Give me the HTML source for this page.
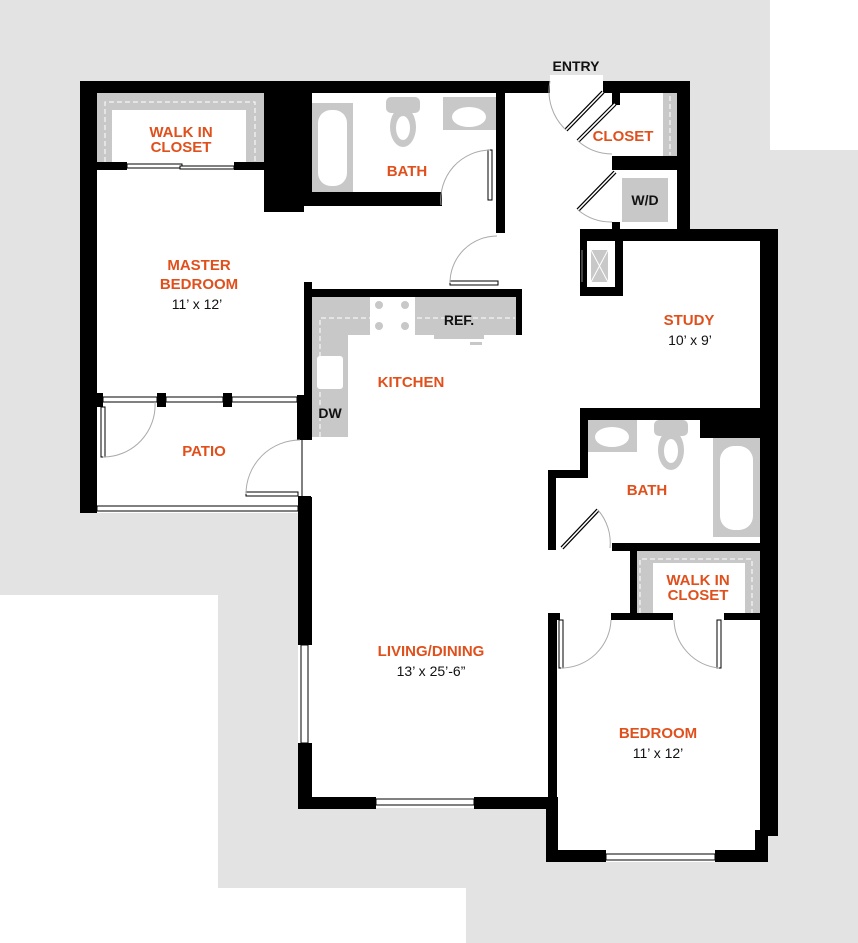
<!DOCTYPE html>
<html><head><meta charset="utf-8"><style>
html,body{margin:0;padding:0;background:#fff;}
svg{display:block;}
.o{font-family:"Liberation Sans",sans-serif;font-weight:bold;fill:#e0501c;font-size:15px;text-anchor:middle;}
.k{font-family:"Liberation Sans",sans-serif;fill:#111;font-size:14px;text-anchor:middle;}
</style></head><body>
<svg width="858" height="943" viewBox="0 0 858 943" xmlns="http://www.w3.org/2000/svg">
<polygon points="0,0 770,0 770,150 858,150 858,943 466,943 466,888 218,888 218,595 0,595" fill="#e3e3e3"/>
<polygon points="80,81 550,81 550,75 603,75 603,81 690,81 690,229 778,229 778,836 768,836 768,862 546,862 546,808 298,808 298,513 80,513" fill="#fff"/>

<g fill="#c8c8c8">
<rect x="97" y="93" width="167" height="69"/>
<rect x="312" y="103" width="41" height="89"/>
<rect x="443" y="97" width="53" height="33"/>
<rect x="312" y="297" width="204" height="38"/>
<rect x="312" y="297" width="36" height="140"/>
<rect x="434" y="297" width="50" height="42"/>
<rect x="663" y="93" width="14" height="64"/>
<rect x="622" y="178" width="46" height="44"/>
<rect x="591" y="250" width="17" height="32"/>
<rect x="588" y="420" width="49" height="32"/>
<rect x="713" y="438" width="47" height="99"/>
<rect x="630" y="550" width="130" height="63"/>
</g>
<g fill="#fff">
<rect x="112" y="110" width="134" height="52"/>
<rect x="370" y="297" width="45" height="39"/>
<rect x="653" y="563" width="92" height="50"/>
<rect x="318" y="110" width="29" height="76" rx="13"/>
<rect x="720" y="446" width="33" height="84" rx="14"/>
<rect x="317" y="356" width="26" height="33" rx="3"/>
<ellipse cx="469" cy="117" rx="17" ry="10"/>
<ellipse cx="612" cy="437" rx="17" ry="10"/>
</g>
<g fill="#c8c8c8">
<rect x="386" y="97" width="34" height="16" rx="5"/>
<ellipse cx="403" cy="127" rx="13" ry="20"/>
<rect x="654" y="420" width="34" height="16" rx="5"/>
<ellipse cx="671" cy="450" rx="13" ry="20"/>
</g>
<g fill="#fff"><ellipse cx="403" cy="128" rx="7" ry="12"/><ellipse cx="671" cy="451" rx="7" ry="12"/></g>
<g fill="#c8c8c8"><circle cx="379" cy="305" r="4"/><circle cx="405" cy="305" r="4"/><circle cx="379" cy="326" r="4"/><circle cx="405" cy="326" r="4"/></g>
<rect x="470" y="342" width="12" height="3" fill="#c8c8c8"/>
<path d="M591,250 L608,282 M608,250 L591,282" stroke="#fff" stroke-width="1"/>
<g stroke="#fff" stroke-width="1" stroke-dasharray="5,3" fill="none">
<path d="M105,162 V102 H255 V162"/>
<path d="M640,613 V559 H752 V613"/>
<path d="M320,437 V318 H515"/>
<path d="M670,96 V155"/>
</g>

<g fill="#000">
<rect x="80" y="81" width="470" height="12"/>
<rect x="603" y="81" width="87" height="12"/>
<rect x="80" y="81" width="17" height="432"/>
<rect x="97" y="162" width="30" height="8"/>
<rect x="234" y="162" width="30" height="8"/>
<rect x="264" y="81" width="40" height="131"/>
<rect x="304" y="81" width="8" height="124"/>
<rect x="304" y="192" width="138" height="14"/>
<rect x="496" y="93" width="9" height="140"/>
<rect x="304" y="282" width="8" height="158"/>
<rect x="297" y="395" width="15" height="45"/>
<rect x="304" y="289" width="218" height="8"/>
<rect x="516" y="289" width="6" height="46"/>
<rect x="97" y="393" width="6" height="14"/>
<rect x="157" y="393" width="9" height="14"/>
<rect x="223" y="393" width="9" height="14"/>
<rect x="298" y="496" width="13" height="17"/>
<rect x="298" y="497" width="14" height="148"/>
<rect x="298" y="743" width="14" height="66"/>
<rect x="298" y="797" width="78" height="12"/>
<rect x="474" y="797" width="74" height="12"/>
<rect x="546" y="797" width="12" height="65"/>
<rect x="548" y="613" width="9" height="249"/>
<rect x="546" y="850" width="60" height="12"/>
<rect x="715" y="850" width="53" height="12"/>
<rect x="755" y="830" width="13" height="32"/>
<rect x="760" y="229" width="18" height="607"/>
<rect x="677" y="81" width="13" height="148"/>
<rect x="612" y="93" width="8" height="12"/>
<rect x="612" y="156" width="65" height="14"/>
<rect x="612" y="222" width="8" height="8"/>
<rect x="580" y="229" width="198" height="12"/>
<rect x="580" y="229" width="7" height="67"/>
<rect x="615" y="229" width="8" height="67"/>
<rect x="580" y="287" width="43" height="9"/>
<rect x="580" y="408" width="180" height="12"/>
<rect x="700" y="408" width="60" height="30"/>
<rect x="580" y="408" width="8" height="70"/>
<rect x="548" y="470" width="40" height="8"/>
<rect x="548" y="470" width="8" height="80"/>
<rect x="612" y="543" width="148" height="8"/>
<rect x="630" y="543" width="7" height="70"/>
<rect x="548" y="613" width="12" height="7"/>
<rect x="611" y="613" width="62" height="7"/>
<rect x="724" y="613" width="36" height="7"/>
</g>

<g fill="#fff" stroke="#000" stroke-width="1">
<rect x="127" y="164" width="55" height="4"/><rect x="180" y="166" width="54" height="3"/>
<rect x="103" y="397" width="54" height="5"/><rect x="166" y="397" width="57" height="5"/><rect x="232" y="397" width="65" height="5"/>
<rect x="97" y="506" width="201" height="5"/>
<rect x="301" y="645" width="7" height="98"/>
<rect x="376" y="799" width="98" height="6"/>
<rect x="606" y="854" width="109" height="6"/>
</g>
<line x1="302" y1="440" x2="302" y2="497" stroke="#000" stroke-width="1"/>
<line x1="582" y1="250" x2="582" y2="282" stroke="#888" stroke-width="1"/>

<g fill="#fff" stroke="#000" stroke-width="1">
<rect x="488" y="150" width="4" height="50"/>
<rect x="450" y="281" width="48" height="4"/>
<rect x="101" y="407" width="4" height="50"/>
<rect x="246" y="492" width="52" height="4"/>
<rect x="559" y="620" width="4" height="48"/>
<rect x="717" y="620" width="4" height="48"/>
</g>
<g stroke="#000" stroke-width="4">
<line x1="603" y1="92" x2="566" y2="130"/>
<line x1="615" y1="104" x2="578" y2="141"/>
<line x1="615" y1="172" x2="578" y2="210"/>
<line x1="598" y1="510" x2="562" y2="548"/>
</g>
<g stroke="#fff" stroke-width="1.6">
<line x1="603" y1="92" x2="566" y2="130"/>
<line x1="615" y1="104" x2="578" y2="141"/>
<line x1="615" y1="172" x2="578" y2="210"/>
<line x1="598" y1="510" x2="562" y2="548"/>
</g>
<g fill="none" stroke="#aaa" stroke-width="1">
<path d="M441,205 A50,50 0 0 1 490,150"/>
<path d="M450,283 A47,47 0 0 1 497,236"/>
<path d="M103,457 A52,52 0 0 0 155,402"/>
<path d="M246,494 A54,54 0 0 1 300,440"/>
<path d="M550,81 A53,53 0 0 0 566,130"/>
<path d="M578,141 A52,52 0 0 0 612,154"/>
<path d="M578,210 A52,52 0 0 0 612,222"/>
<path d="M598,510 A50,50 0 0 1 610,548"/>
<path d="M561,668 A50,50 0 0 0 611,620"/>
<path d="M719,668 A50,50 0 0 1 674,620"/>
</g>

<text class="k" x="576" y="71" font-weight="bold" font-size="14">ENTRY</text>
<text class="o" x="181" y="137" font-size="13">WALK IN</text>
<text class="o" x="181" y="152" font-size="13">CLOSET</text>
<text class="o" x="407" y="176">BATH</text>
<text class="o" x="623" y="141">CLOSET</text>
<text class="k" x="645" y="205" font-weight="bold">W/D</text>
<text class="o" x="199" y="270">MASTER</text>
<text class="o" x="199" y="289">BEDROOM</text>
<text class="k" x="197" y="309">11’ x 12’</text>
<text class="k" x="459" y="325" font-weight="bold">REF.</text>
<text class="o" x="689" y="325">STUDY</text>
<text class="k" x="690" y="345">10’ x 9’</text>
<text class="o" x="411" y="387">KITCHEN</text>
<text class="k" x="330" y="418" font-weight="bold" font-size="13">DW</text>
<text class="o" x="204" y="456">PATIO</text>
<text class="o" x="647" y="495">BATH</text>
<text class="o" x="698" y="585" font-size="13">WALK IN</text>
<text class="o" x="698" y="600" font-size="13">CLOSET</text>
<text class="o" x="431" y="656">LIVING/DINING</text>
<text class="k" x="431" y="676">13’ x 25’-6”</text>
<text class="o" x="658" y="738">BEDROOM</text>
<text class="k" x="658" y="758">11’ x 12’</text>
</svg>
</body></html>
